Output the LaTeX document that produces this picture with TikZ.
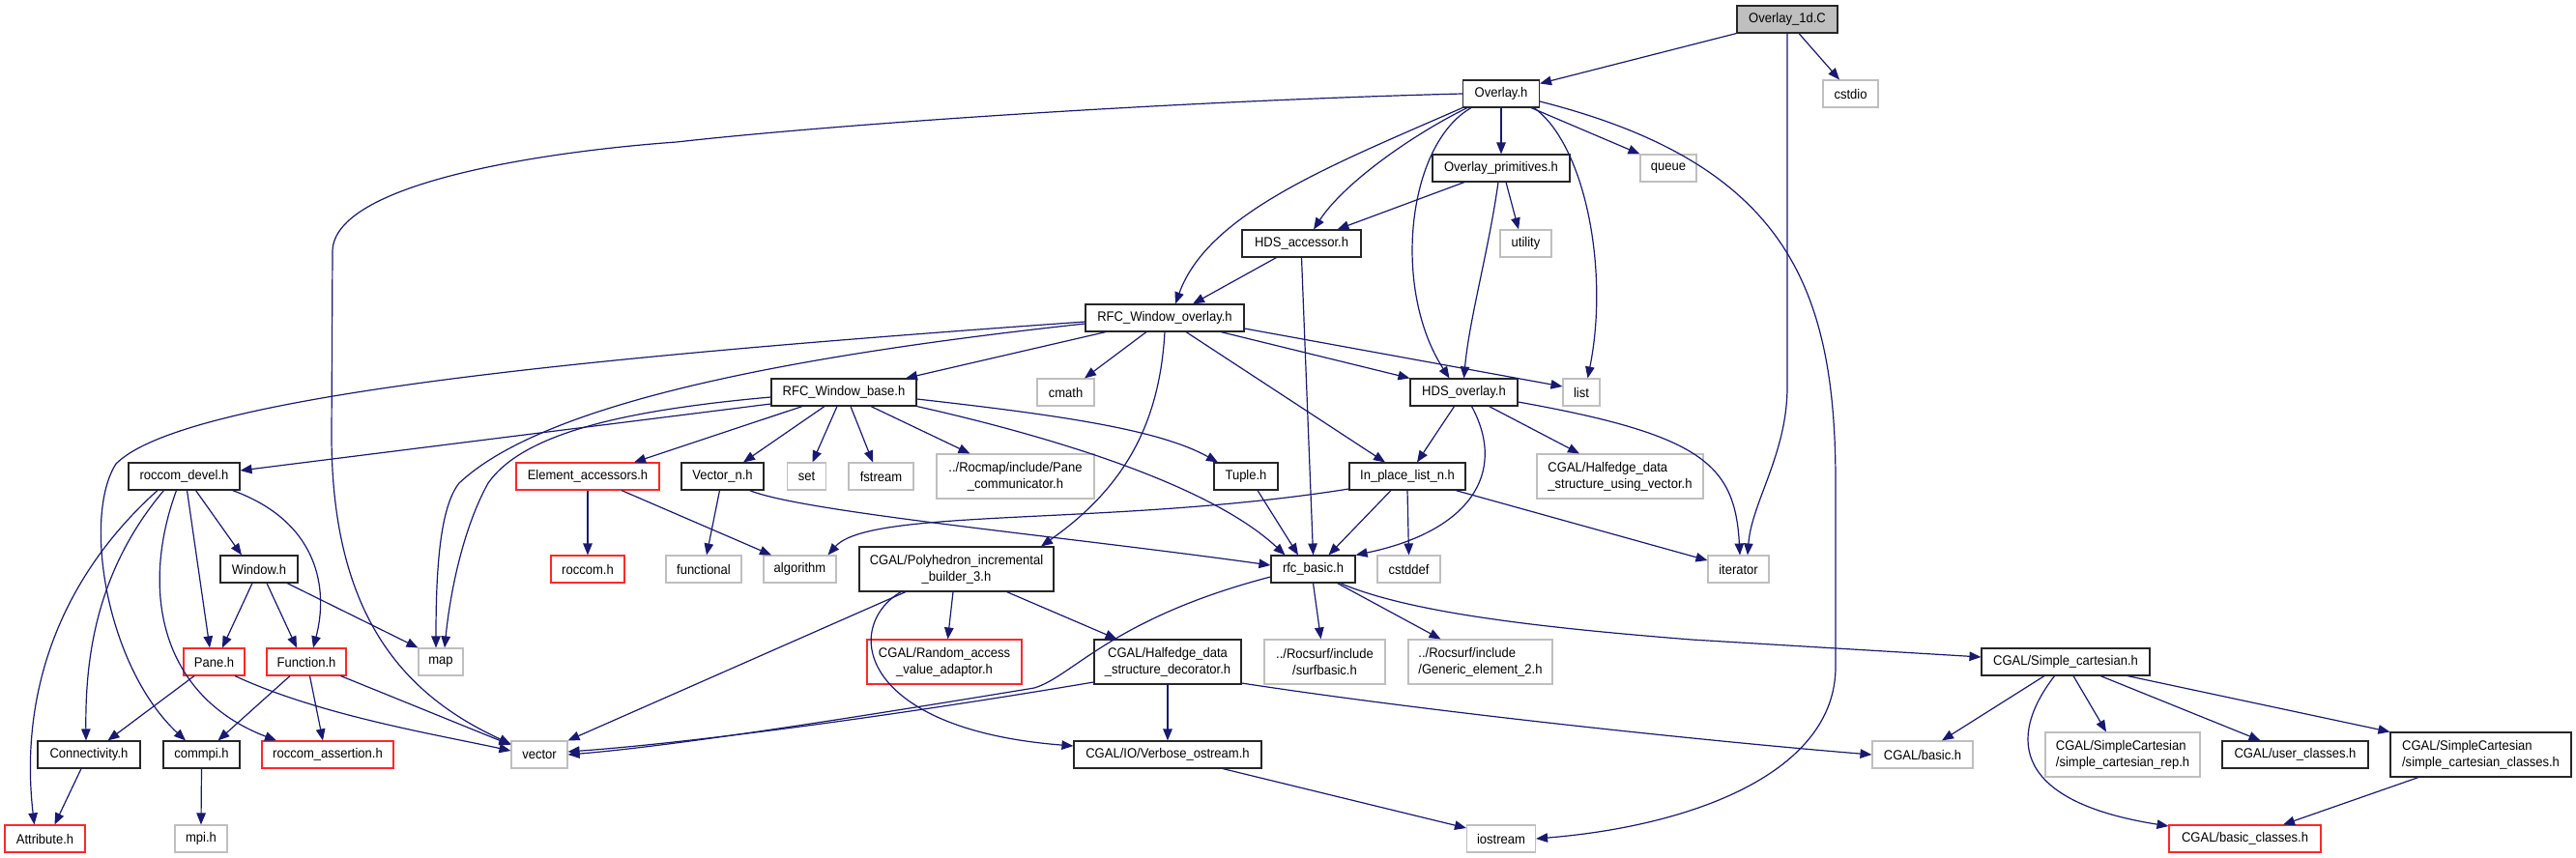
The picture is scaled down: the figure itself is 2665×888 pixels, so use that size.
\documentclass[tikz,border=0pt]{standalone}
\usepackage{fontspec}
\setmainfont{Liberation Sans}[FakeStretch=0.93]
\usetikzlibrary{arrows.meta}
\definecolor{navyb}{RGB}{25,25,112}
\definecolor{grayb}{RGB}{191,191,191}
\definecolor{redb}{RGB}{255,40,40}
\tikzset{
  nd/.style={draw, rectangle, inner sep=0pt, line width=1.1pt, font=\fontsize{14}{17}\selectfont, align=center},
  blk/.style={nd, draw=black!85},
  gry/.style={nd, draw=grayb},
  rdn/.style={nd, draw=redb},
  lft/.style={align=left},
  e/.style={draw=navyb, line width=1.2pt, -{Triangle[length=12pt,width=9.5pt]}, fill=none},
}
\newcommand{\bx}[6]{\node[#1, minimum width=#4pt, minimum height=#5pt] (#2) at (#3) {#6};}
\begin{document}
\begin{tikzpicture}[x=1pt,y=-1pt]
\useasboundingbox (0,0) rectangle (2665,888);
% row 0-3
\bx{blk,fill=grayb}{od}{1849,20}{104}{28}{Overlay\_1d.C}
\bx{blk}{ov}{1553,97}{79}{28}{Overlay.h}
\bx{gry}{cstdio}{1914.5,97}{57}{28}{cstdio}
\bx{blk}{op}{1553,174}{142}{28}{Overlay\_primitives.h}
\bx{gry}{queue}{1726,174}{58}{28}{queue}
\bx{blk}{hdsa}{1346.5,252}{123}{28}{HDS\_accessor.h}
\bx{gry}{utility}{1578.5,252}{53}{28}{utility}
\bx{blk}{rwo}{1205,329}{164}{28}{RFC\_Window\_overlay.h}
% row 5
\bx{blk}{hdso}{1514.5,406}{111}{28}{HDS\_overlay.h}
\bx{gry}{list}{1636,406}{38}{28}{list}
\bx{gry}{cmath}{1102.5,406}{59}{28}{cmath}
\bx{blk}{rwb}{873,406}{150}{28}{RFC\_Window\_base.h}
% row 6
\bx{blk}{rd}{190.5,493}{115}{28}{roccom\_devel.h}
\bx{rdn}{ea}{608,493}{148}{28}{Element\_accessors.h}
\bx{blk}{vn}{747.5,493}{85}{28}{Vector\_n.h}
\bx{gry}{set}{834.5,493}{40}{28}{set}
\bx{gry}{fstream}{911.5,493}{67}{28}{fstream}
\bx{gry}{pc}{1050.5,493}{163}{46}{../Rocmap/include/Pane\\\_communicator.h}
\bx{blk}{tuple}{1289,493}{66}{28}{Tuple.h}
\bx{blk}{ipl}{1456,493}{120}{28}{In\_place\_list\_n.h}
\bx{gry,lft}{hdsv}{1676,493}{172}{46}{CGAL/Halfedge\_data\\\_structure\_using\_vector.h}
% row 7
\bx{blk}{win}{268,589}{80}{28}{Window.h}
\bx{rdn}{roccom}{608,589}{76}{28}{roccom.h}
\bx{gry}{func}{728,589}{78}{28}{functional}
\bx{gry}{alg}{827.5,589}{75}{28}{algorithm}
\bx{blk}{pib}{989.5,589}{201}{46}{CGAL/Polyhedron\_incremental\\\_builder\_3.h}
\bx{blk}{rfc}{1358.5,589}{87}{28}{rfc\_basic.h}
\bx{gry}{cstddef}{1457.5,589}{65}{28}{cstddef}
\bx{gry}{iter}{1798.5,589}{63}{28}{iterator}
% row 8
\bx{rdn}{pane}{221.5,685}{63}{28}{Pane.h}
\bx{rdn}{fun}{317,685}{82}{28}{Function.h}
\bx{gry}{map}{456,685}{46}{28}{map}
\bx{rdn}{rava}{977,685}{160}{46}{CGAL/Random\_access\\\_value\_adaptor.h}
\bx{blk}{hdsd}{1208,685}{152}{46}{CGAL/Halfedge\_data\\\_structure\_decorator.h}
\bx{gry}{sb}{1370.5,685}{125}{46}{../Rocsurf/include\\/surfbasic.h}
\bx{gry,lft}{ge}{1531.5,685}{149}{46}{../Rocsurf/include\\/Generic\_element\_2.h}
\bx{blk}{sc}{2137,685}{174}{28}{CGAL/Simple\_cartesian.h}
% row 9
\bx{blk}{conn}{92,781}{106}{28}{Connectivity.h}
\bx{blk}{commpi}{208.5,781}{79}{28}{commpi.h}
\bx{rdn}{ra}{339,781}{136}{28}{roccom\_assertion.h}
\bx{gry}{vec}{558,781}{58}{28}{vector}
\bx{blk}{vos}{1208,781}{194}{28}{CGAL/IO/Verbose\_ostream.h}
\bx{gry}{cb}{1989,781}{104}{28}{CGAL/basic.h}
\bx{gry,lft}{scr}{2196,781}{160}{46}{CGAL/SimpleCartesian\\/simple\_cartesian\_rep.h}
\bx{blk}{uc}{2374.5,781}{151}{28}{CGAL/user\_classes.h}
\bx{blk,lft}{scc}{2566.5,781}{187}{46}{CGAL/SimpleCartesian\\/simple\_cartesian\_classes.h}
% row 10
\bx{rdn}{attr}{46.5,868}{83}{28}{Attribute.h}
\bx{gry}{mpi}{208,868}{54}{28}{mpi.h}
\bx{gry}{ios}{1553,868}{71}{28}{iostream}
\bx{rdn}{cbc}{2322.5,868}{157}{28}{CGAL/basic\_classes.h}

% edges
\draw[e] (od.south west) -- ([yshift=-4pt]ov.north east);
\draw[e] ([xshift=12pt]od.south) -- ([xshift=-11.5pt]cstdio.north);
\draw[e] (od.south) -- (1849,400) .. controls (1849,470) and (1812,520) .. ([xshift=9.5pt]iter.north);
\draw[e] (ov.west) .. controls (1200,105) and (850,130) .. (700,147) .. controls (560,157) and (345,190) .. (344,260) -- (343,450) .. controls (343,640) and (420,720) .. ([yshift=11pt]vec.west);
\draw[e] (ov.south) -- (op.north);
\draw[e] ([xshift=31pt]ov.south) -- (queue.north west);
\draw[e] ([xshift=34pt]ov.south) .. controls (1640,150) and (1665,280) .. ([xshift=6.5pt]list.north);
\draw[e] ([xshift=-31pt]ov.south) .. controls (1455,150) and (1440,300) .. ([xshift=-15pt]hdso.north);
\draw[e] ([xshift=-35pt]ov.south) .. controls (1460,140) and (1390,190) .. ([xshift=12.5pt]hdsa.north);
\draw[e] (ov.south west) .. controls (1380,170) and (1250,220) .. ([xshift=11pt]rwo.north);
\draw[e] ([yshift=-8pt]ov.east) .. controls (1850,170) and (1899,300) .. (1899,500) -- (1899,690) .. controls (1899,800) and (1750,855) .. (ios.east);
\draw[e] ([xshift=-38pt]op.south) -- ([xshift=37pt]hdsa.north);
\draw[e] ([xshift=-3pt]op.south) .. controls (1540,260) and (1520,330) .. (hdso.north);
\draw[e] ([xshift=5pt]op.south) -- ([xshift=-7.5pt]utility.north);
\draw[e] ([xshift=-26pt]hdsa.south) -- ([xshift=29pt]rwo.north);
\draw[e] (hdsa.south) -- (rfc.north);
\draw[e] ([xshift=-61pt]rwo.south) -- ([xshift=64pt]rwb.north);
\draw[e] ([xshift=-19pt]rwo.south) -- ([xshift=19.5pt]cmath.north);
\draw[e] (rwo.south) .. controls (1200,430) and (1170,500) .. ([xshift=87.5pt]pib.north);
\draw[e] ([xshift=22pt]rwo.south) -- ([xshift=-23pt]ipl.north);
\draw[e] ([xshift=58pt]rwo.south) -- (hdso.north west);
\draw[e] ([yshift=-11pt]rwo.east) -- ([yshift=6pt]list.west);
\draw[e] ([yshift=-4pt]rwo.west) .. controls (600,370) and (190,410) .. (120,480) .. controls (85,535) and (110,690) .. ([xshift=-16.5pt]commpi.north);
\draw[e] ([yshift=-6pt]rwo.west) .. controls (800,370) and (560,420) .. (475,500) .. controls (455,525) and (451,590) .. ([xshift=-5pt]map.north);
\draw[e] ([yshift=-12pt]rwb.west) -- ([yshift=6pt]rd.east);
\draw[e] ([yshift=-5pt]rwb.west) .. controls (640,425) and (540,450) .. (505,500) .. controls (480,545) and (466,610) .. ([xshift=4pt]map.north);
\draw[e] ([xshift=-43pt]rwb.south) -- ([xshift=48pt]ea.north);
\draw[e] ([xshift=-20pt]rwb.south) -- ([xshift=21.5pt]vn.north);
\draw[e] ([xshift=-7pt]rwb.south) -- ([xshift=6pt]set.north);
\draw[e] ([xshift=7pt]rwb.south) -- ([xshift=-8.5pt]fstream.north);
\draw[e] ([xshift=28pt]rwb.south) -- ([xshift=-47pt]pc.north);
\draw[e] (rwb.south east) .. controls (1080,450) and (1250,500) .. ([xshift=-29pt]rfc.north);
\draw[e] ([yshift=-7pt]rwb.east) .. controls (1100,430) and (1200,445) .. ([xshift=-29pt]tuple.north);
\draw[e] ([xshift=12pt]tuple.south) -- ([xshift=-15.5pt]rfc.north);
\draw[e] ([xshift=-17pt]ipl.south) -- ([xshift=16pt]rfc.north);
\draw[e] ([xshift=8pt]hdso.south) .. controls (1560,490) and (1520,550) .. (rfc.north east);
\draw[e] ([xshift=-10pt]hdso.south) -- ([xshift=10pt]ipl.north);
\draw[e] ([xshift=26pt]hdso.south) -- ([xshift=-42pt]hdsv.north);
\draw[e] ([yshift=-10pt]hdso.east) .. controls (1760,450) and (1795,480) .. ([xshift=1.5pt]iter.north);
\draw[e] ([yshift=-13pt]ipl.west) .. controls (1150,545) and (900,525) .. ([xshift=29pt]alg.north);
\draw[e] (ipl.south) -- (cstddef.north);
\draw[e] ([xshift=50pt]ipl.south) -- ([yshift=9pt]iter.west);
\draw[e] (ea.south) -- (roccom.north);
\draw[e] ([xshift=35pt]ea.south) -- ([xshift=-29.5pt]alg.north);
\draw[e] ([xshift=-3pt]vn.south) -- ([xshift=3pt]func.north);
\draw[e] ([xshift=28pt]vn.south) .. controls (830,530) and (1100,555) .. ([yshift=4pt]rfc.west);
\draw[e] ([xshift=-27.5pt]rd.south) .. controls (60,600) and (20,720) .. ([xshift=-11pt]attr.north);
\draw[e] ([xshift=-21pt]rd.south) .. controls (100,590) and (88,680) .. ([xshift=-3pt]conn.north);
\draw[e] ([xshift=-8pt]rd.south) .. controls (145,610) and (165,720) .. ([xshift=-53pt]ra.north);
\draw[e] ([xshift=3pt]rd.south) -- ([xshift=-4.5pt]pane.north);
\draw[e] ([xshift=12pt]rd.south) -- ([xshift=-18pt]win.north);
\draw[e] ([xshift=50pt]rd.south) .. controls (330,540) and (340,610) .. ([xshift=7pt]fun.north);
\draw[e] ([xshift=-7pt]win.south) -- ([xshift=8.5pt]pane.north);
\draw[e] ([xshift=8pt]win.south) -- ([xshift=-10pt]fun.north);
\draw[e] ([xshift=29pt]win.south) -- (map.north west);
\draw[e] ([xshift=-20.5pt]pane.south) -- ([xshift=19.5pt]conn.north);
\draw[e] ([xshift=21.5pt]pane.south) .. controls (330,740) and (450,760) .. ([yshift=4pt]vec.west);
\draw[e] ([xshift=-17pt]fun.south) -- ([xshift=17pt]commpi.north);
\draw[e] ([xshift=3.5pt]fun.south) -- ([xshift=-5pt]ra.north);
\draw[e] ([xshift=35.5pt]fun.south) -- ([yshift=10pt]vec.west);
\draw[e] ([xshift=-8pt]conn.south) -- ([xshift=10pt]attr.north);
\draw[e] (commpi.south) -- (mpi.north);
\draw[e] ([xshift=-52.5pt]pib.south) -- (vec.north east);
\draw[e] ([xshift=-3.5pt]pib.south) -- ([xshift=3.5pt]rava.north);
\draw[e] ([xshift=52pt]pib.south) -- ([xshift=-52.5pt]hdsd.north);
\draw[e] ([xshift=-57.5pt]pib.south) .. controls (870,650) and (890,755) .. ([yshift=9pt]vos.west);
\draw[e] ([yshift=-21pt]hdsd.west) .. controls (900,745) and (700,770) .. ([yshift=3pt]vec.east);
\draw[e] (hdsd.south) -- (vos.north);
\draw[e] ([yshift=-22pt]hdsd.east) .. controls (1500,740) and (1800,770) .. (cb.west);
\draw[e] ([yshift=-8pt]rfc.west) .. controls (1150,640) and (1110,700) .. (1070,712) .. controls (900,740) and (700,772) .. (vec.east);
\draw[e] (rfc.south) -- ([xshift=-4pt]sb.north);
\draw[e] ([xshift=25pt]rfc.south) -- ([xshift=-41pt]ge.north);
\draw[e] ([xshift=28pt]rfc.south) .. controls (1460,635) and (1600,650) .. (1750,662) -- ([yshift=5pt]sc.west);
\draw[e] ([xshift=57pt]vos.south) -- ([yshift=11pt]ios.west);
\draw[e] ([xshift=-22pt]sc.south) -- ([xshift=20pt]cb.north);
\draw[e] ([xshift=-11.5pt]sc.south) .. controls (2075,765) and (2085,830) .. ([yshift=13pt]cbc.west);
\draw[e] ([xshift=8pt]sc.south) -- ([xshift=-17pt]scr.north);
\draw[e] ([xshift=36pt]sc.south) -- ([xshift=-36pt]uc.north);
\draw[e] ([xshift=64pt]sc.south) -- (scc.north west);
\draw[e] ([xshift=-64.5pt]scc.south) -- ([xshift=39.5pt]cbc.north);
\end{tikzpicture}
\end{document}
